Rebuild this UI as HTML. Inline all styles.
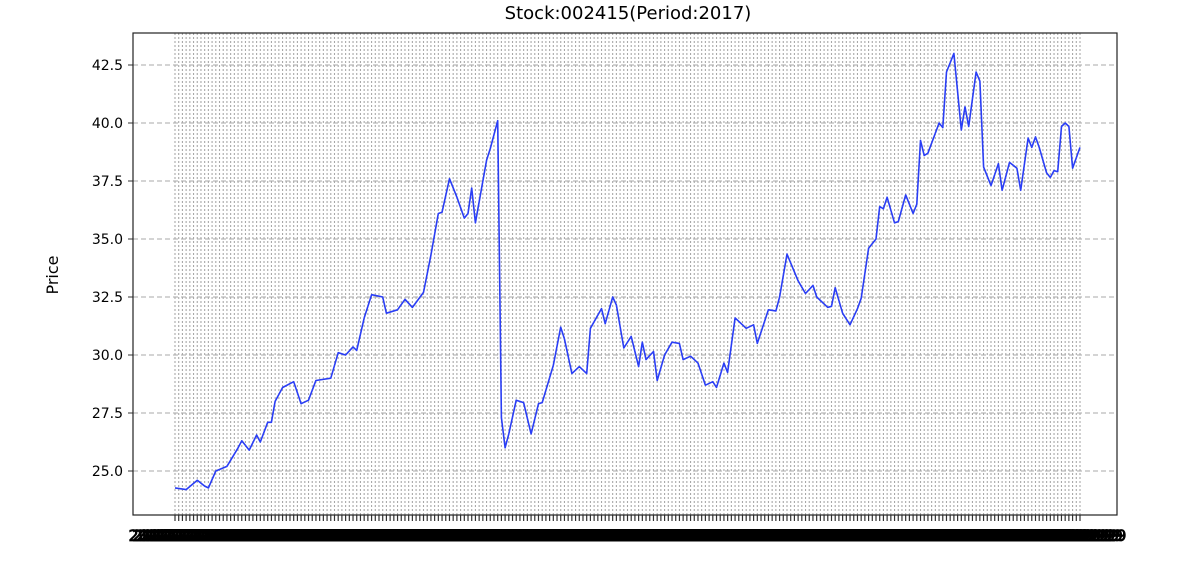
<!DOCTYPE html>
<html><head><meta charset="utf-8"><style>
body{margin:0;background:#fff;width:1198px;height:556px;overflow:hidden}
text{font-family:"DejaVu Sans","Liberation Sans",sans-serif}
</style></head><body>
<svg id="chart" width="1198" height="556" xmlns="http://www.w3.org/2000/svg">
<g id="grid"></g>
<g id="xticks"></g>
<g id="yticks"></g>
<path id="line" fill="none" stroke="#2a3ef5" stroke-width="1.6" stroke-linejoin="round"/>
<rect x="133" y="33" width="984" height="482" fill="none" stroke="#222" stroke-width="1.2"/>
<text x="628" y="19" text-anchor="middle" font-size="18">Stock:002415(Period:2017)</text>
<text x="0" y="0" transform="translate(58,275) rotate(-90)" text-anchor="middle" font-size="16">Price</text>
</svg>
<script>
const totalDays = 245;
const days = [0,3,6,8,9,11,14,17,18,20,22,23,25,26,27,29,32,34,36,38,42,44,46,48,49,51,53,56,57,60,62,64,67,69,71,72,74,76,78,79,80,81,84,85,87,88,89,90,92,94,96,98,99,102,104,105,107,109,111,112,115,116,118,119,121,123,125,126,127,129,130,132,134,136,137,139,141,143,145,146,148,149,151,154,156,157,160,162,163,165,168,170,172,173,176,177,178,180,182,184,185,187,189,190,191,192,194,195,197,199,200,201,202,203,206,207,208,210,212,213,214,216,217,218,220,222,223,225,227,228,230,231,232,233,235,236,237,238,239,240,241,242,244];
const prices = [24.27,24.2,24.6,24.35,24.27,25.0,25.2,26.0,26.3,25.9,26.55,26.25,27.1,27.1,28.0,28.6,28.85,27.9,28.05,28.9,29.0,30.1,30.0,30.35,30.2,31.6,32.6,32.5,31.8,31.95,32.4,32.05,32.7,34.3,36.1,36.15,37.6,36.8,35.9,36.1,37.2,35.7,38.4,38.9,40.1,27.3,26.0,26.6,28.05,27.95,26.6,27.9,27.95,29.55,31.2,30.7,29.2,29.5,29.2,31.15,32.0,31.35,32.5,32.15,30.3,30.8,29.5,30.55,29.8,30.15,28.9,30.0,30.55,30.5,29.8,29.95,29.65,28.7,28.85,28.6,29.65,29.25,31.6,31.15,31.3,30.5,31.95,31.9,32.5,34.35,33.2,32.65,33.0,32.5,32.05,32.1,32.9,31.8,31.3,32.0,32.45,34.6,35.0,36.4,36.3,36.8,35.7,35.75,36.9,36.1,36.5,39.25,38.6,38.7,40.0,39.8,42.2,43.0,39.7,40.7,39.85,42.2,41.8,38.1,37.3,38.25,37.1,38.3,38.05,37.1,39.35,38.95,39.4,38.95,37.85,37.65,37.95,37.9,39.85,40.0,39.85,38.05,38.95];
const yTicks = [25.0,27.5,30.0,32.5,35.0,37.5,40.0,42.5];
const xLabel = "2017-12-29";

const NS="http://www.w3.org/2000/svg";
const L=133,R=1117,T=33,B=515,x0=175,x1=1080;
const xs=d=>x0+d*(x1-x0)/(totalDays-1);
const ys=v=>471-(v-25)*58/2.5;
function mk(tag,attrs,parent){const e=document.createElementNS(NS,tag);for(const k in attrs)e.setAttribute(k,attrs[k]);parent.appendChild(e);return e;}
const grid=document.getElementById('grid'),xt=document.getElementById('xticks'),yt=document.getElementById('yticks');
for(let d=0;d<totalDays;d++){
  const x=xs(d);
  const g=mk('line',{x1:x,x2:x,y1:T,y2:B,stroke:'#a8a8a8','stroke-width':1.1,'stroke-dasharray':'2,2'},grid);
  
  
  const t=mk('line',{x1:x,x2:x,y1:B,y2:B+6,stroke:'#333','stroke-width':1.2},xt);
  
  
  const lb=mk('text',{x:x,y:B+26,'text-anchor':'middle','font-size':16,fill:'#000',stroke:'#000','stroke-width':0.8},xt);
  
  
  lb.textContent=xLabel;
}
yTicks.forEach(v=>{
  const y=ys(v);
  const g=mk('line',{x1:L,x2:R,y1:y,y2:y,stroke:'#a8a8a8','stroke-width':1,'stroke-dasharray':'5,3'},grid);
  
  
  const t=mk('line',{x1:L-5,x2:L,y1:y,y2:y,stroke:'#000','stroke-width':0.8},yt);
  
  
  const lb=mk('text',{x:L-10,y:y+5,'text-anchor':'end','font-size':14},yt);
  
  
  lb.textContent=v.toFixed(1);
});
document.getElementById('line').setAttribute('d',days.map((d,i)=>(i?'L':'M')+xs(d).toFixed(1)+','+ys(prices[i]).toFixed(1)).join(''));
</script>
</body></html>
